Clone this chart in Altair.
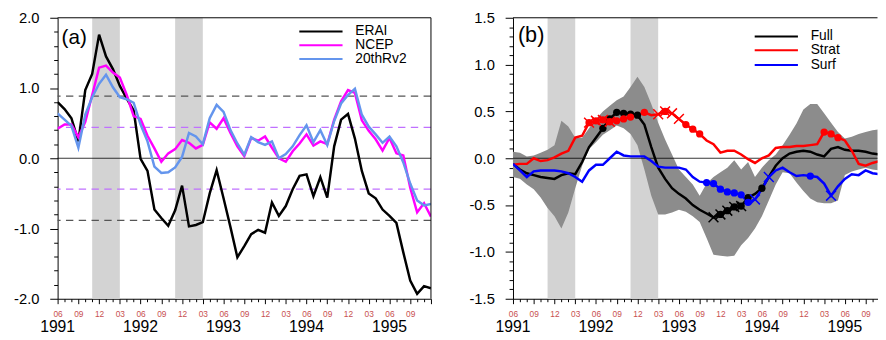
import json
import altair as alt
import pandas as pd

FONT = "Liberation Sans"

# ---------------- data ----------------
# month index 0 = Jun 1991 ... 54 = Dec 1995
MONTHS = list(range(55))
MONTH_LABELS = ["06", "09", "12", "03"]
YEARS = ["1991", "1992", "1993", "1994", "1995"]
YEAR_POS = [0, 12, 24, 36, 48]
BAND_START = [5, 17]
BAND_END = [9, 21]

ERAI = [0.80, 0.70, 0.57, 0.24, 0.97, 1.20, 1.76, 1.45, 1.27, 1.03,
        0.85, 0.68, -0.01, -0.18, -0.73, -0.85, -0.96, -0.74, -0.39, -0.97,
        -0.95, -0.91, -0.50, -0.17, -0.57, -0.98, -1.41, -1.25, -1.08, -1.02,
        -1.06, -0.63, -0.82, -0.68, -0.44, -0.25, -0.23, -0.54, -0.27, -0.56,
        0.17, 0.55, 0.63, 0.28, -0.18, -0.50, -0.57, -0.73, -0.82, -0.92,
        -1.34, -1.74, -1.93, -1.82, -1.85]
NCEP = [0.42, 0.48, 0.48, 0.30, 0.52, 0.90, 1.29, 1.32, 1.22, 1.15,
        0.90, 0.60, 0.56, 0.32, 0.14, -0.05, 0.07, 0.13, 0.26, 0.22,
        0.14, 0.19, 0.51, 0.42, 0.57, 0.36, 0.17, 0.03, 0.29, 0.25,
        0.31, 0.15, 0.00, -0.05, 0.10, 0.21, 0.34, 0.18, 0.24, 0.20,
        0.55, 0.81, 0.97, 0.93, 0.54, 0.39, 0.27, 0.11, 0.29, 0.07,
        0.04, -0.42, -0.77, -0.64, -0.83]
R20 = [0.64, 0.55, 0.46, 0.15, 0.62, 0.87, 1.06, 1.19, 1.01, 0.87,
       0.84, 0.79, 0.48, 0.24, -0.12, -0.21, -0.20, -0.13, 0.02, 0.36,
       0.31, 0.20, 0.57, 0.76, 0.66, 0.40, 0.21, 0.05, 0.30, 0.23,
       0.19, 0.24, 0.00, 0.06, 0.17, 0.33, 0.47, 0.23, 0.40, 0.19,
       0.53, 0.78, 0.90, 0.99, 0.62, 0.45, 0.34, 0.22, 0.31, 0.17,
       -0.06, -0.36, -0.60, -0.67, -0.65]
THR_ERAI = 0.885
THR_NCEP = 0.44

FULL = [-0.06, -0.12, -0.16, -0.18, -0.20, -0.21, -0.22, -0.18, -0.16, -0.17,
        -0.04, 0.12, 0.22, 0.32, 0.42, 0.49, 0.48, 0.47, 0.46, 0.36,
        0.12, -0.10, -0.22, -0.32, -0.38, -0.43, -0.50, -0.55, -0.59, -0.63,
        -0.60, -0.56, -0.52, -0.51, -0.42, -0.38, -0.32, -0.20, -0.08, 0.00,
        0.05, 0.07, 0.08, 0.07, 0.04, 0.02, 0.10, 0.12, 0.09, 0.08,
        0.08, 0.07, 0.05, 0.04, 0.04]
STRAT = [-0.07, -0.06, -0.06, 0.00, -0.03, -0.02, 0.01, 0.05, 0.08, 0.22,
         0.24, 0.38, 0.40, 0.41, 0.39, 0.40, 0.42, 0.44, 0.46, 0.49,
         0.46, 0.47, 0.50, 0.48, 0.42, 0.36, 0.31, 0.26, 0.19, 0.15,
         0.06, 0.08, 0.08, 0.04, -0.01, -0.05, 0.00, 0.03, 0.11, 0.12,
         0.12, 0.13, 0.13, 0.14, 0.15, 0.28, 0.26, 0.22, 0.19, 0.08,
         -0.06, -0.08, -0.05, -0.03, -0.02]
SURF = [-0.06, -0.13, -0.20, -0.14, -0.13, -0.13, -0.13, -0.14, -0.16, -0.20,
        -0.25, -0.13, -0.07, -0.07, 0.00, 0.07, 0.03, 0.02, 0.02, 0.02,
        -0.03, -0.09, -0.10, -0.10, -0.10, -0.12, -0.20, -0.25, -0.26, -0.27,
        -0.33, -0.36, -0.37, -0.39, -0.47, -0.44, -0.33, -0.20, -0.13, -0.10,
        -0.15, -0.19, -0.18, -0.19, -0.20, -0.27, -0.40, -0.30, -0.22, -0.17,
        -0.18, -0.13, -0.16, -0.17, -0.17]
SPREAD_HI = [0.07, 0.06, 0.02, 0.03, 0.06, 0.09, 0.14, 0.40, 0.34, 0.22,
             0.22, 0.32, 0.42, 0.50, 0.56, 0.62, 0.66, 0.76, 0.87, 0.76,
             0.58, 0.38, 0.20, 0.04, -0.12, -0.20, -0.28, -0.40, -0.27, -0.20,
             -0.15, -0.10, -0.02, -0.12, -0.04, -0.20, -0.10, -0.02, 0.04, 0.14,
             0.25, 0.37, 0.52, 0.58, 0.58, 0.48, 0.38, 0.28, 0.21, 0.23,
             0.26, 0.28, 0.30, 0.31, 0.32]
SPREAD_LO = [-0.20, -0.22, -0.28, -0.33, -0.42, -0.53, -0.62, -0.75, -0.58, -0.32,
             -0.08, 0.10, 0.17, 0.25, 0.30, 0.35, 0.32, 0.26, 0.14, -0.12,
             -0.40, -0.60, -0.60, -0.58, -0.55, -0.57, -0.62, -0.68, -0.85, -1.03,
             -1.04, -1.05, -1.04, -0.93, -0.85, -0.75, -0.62, -0.45, -0.28, -0.15,
             -0.16, -0.26, -0.35, -0.43, -0.47, -0.48, -0.48, -0.45, -0.18, -0.14,
             -0.12, -0.10, -0.12, -0.13, -0.13]

FULL_DOTS = [13, 14, 15, 16, 17, 18, 30, 31, 32, 33, 34, 36]
FULL_X = [29, 30, 31, 32, 33]
STRAT_DOTS = [11, 12, 13, 14, 15, 16, 17, 19, 22, 25, 26, 27, 45, 46, 47]
STRAT_X = [11, 12, 13, 14, 21, 22, 23, 24]
SURF_DOTS = [28, 29, 30, 31, 32, 33, 34, 43]
SURF_X = [35, 37, 46]

NAMES_A = ["ERAI", "NCEP", "20thRv2"]
COLORS_A = ["black", "#ff00ff", "#6495ed"]
NAMES_B = ["Full", "Strat", "Surf"]
COLORS_B = ["black", "#ff0000", "#0000ff"]

# ---------------- layout ----------------
H = 286
W_A = 380
PX_PER_MONTH = W_A / 54.0
W_B = 371
XMAX_B = W_B / PX_PER_MONTH
MONTH_COLOR = "#c8504f"
LABEL_ARRAY = json.dumps(MONTH_LABELS)
XCROSS = "M-1,-1L1,1M-1,1L1,-1"


def month_axis(max_idx):
    return alt.Axis(
        values=[m for m in MONTHS if m <= max_idx],
        labelExpr=("datum.value % 3 === 0 && datum.value <= 51 ? "
                   + LABEL_ARRAY + "[(datum.value / 3) % 4] : ''"),
        tickSize={"condition": {"test": "datum.value % 3 === 0", "value": 5}, "value": 3},
        labelFlush=False, labelOverlap=False, labelColor=MONTH_COLOR,
        labelFontSize=8.5, labelFont=FONT, labelPadding=6,
        grid=False, title=None, domainColor="black", tickColor="black",
        domainWidth=1, tickWidth=1)


def value_axis(vals, major_test):
    return alt.Axis(
        values=vals,
        labelExpr=("(" + major_test + ") ? ((datum.value < 0 ? '-' : '') + "
                   "format(abs(datum.value), '.1f')) : ''"),
        tickSize={"condition": {"test": major_test, "value": 8}, "value": 4},
        labelFlush=False, labelOverlap=False, labelColor="black",
        labelFontSize=15, labelFont=FONT, labelPadding=11,
        grid=False, title=None, domainColor="black", tickColor="black",
        domainWidth=1, tickWidth=1)


def one():
    return pd.DataFrame({"k": [0]})


def legend_layers(names, colors, rows):
    out = []
    for n, c, ry in zip(names, colors, rows):
        out.append(alt.Chart(one()).mark_rule(color=c, strokeWidth=2).encode(
            x=alt.value(246), x2=alt.value(290), y=alt.value(ry)))
        out.append(alt.Chart(one()).mark_text(
            align="left", baseline="middle", font=FONT, fontSize=14, color="black"
        ).encode(x=alt.value(303), y=alt.value(ry), text=alt.value(n)))
    return out


def panel(xmax, ymin, ymax, yvals, major_test, width):
    xs = alt.Scale(domain=[0, xmax], nice=False, zero=False)
    ys = alt.Scale(domain=[ymin, ymax], nice=False, zero=False)
    xax = month_axis(int(xmax))
    yax = value_axis(yvals, major_test)
    X = lambda f: alt.X(f, scale=xs, axis=xax)
    Y = lambda f: alt.Y(f, scale=ys, axis=yax)
    bands = alt.Chart(pd.DataFrame({"s": BAND_START, "e": BAND_END})).mark_rect(
        color="#d3d3d3").encode(x=X("s:Q"), x2="e:Q", y=alt.value(0), y2=alt.value(H))
    years = alt.Chart(pd.DataFrame({"i": YEAR_POS, "t": YEARS})).mark_text(
        align="center", baseline="middle", font=FONT, fontSize=16, color="black"
    ).encode(x=X("i:Q"), y=alt.value(H + 28.5), text="t:N")
    return X, Y, bands, years


def line_layer(X, Y, vals, color, width=2.5):
    df = pd.DataFrame({"i": MONTHS, "v": vals})
    return alt.Chart(df).mark_line(color=color, strokeWidth=width, clip=True).encode(
        x=X("i:Q"), y=Y("v:Q"))


def marker_layer(X, Y, idx, vals, color, cross):
    df = pd.DataFrame({"i": idx, "v": [vals[k] for k in idx]})
    if cross:
        mk = alt.Chart(df).mark_point(shape=XCROSS, filled=False, size=100,
                                      strokeWidth=1.5, color=color, opacity=1, clip=True)
    else:
        mk = alt.Chart(df).mark_point(shape="circle", filled=True, size=55,
                                      color=color, opacity=1, clip=True)
    return mk.encode(x=X("i:Q"), y=Y("v:Q"))


# ---------------- panel (a) ----------------
YV_A = [round(-2 + 0.2 * k, 1) for k in range(21)]
X, Y, bands_a, years_a = panel(54, -2, 2, YV_A,
                               "abs(datum.value - round(datum.value)) < 0.01", W_A)
thr_gray = alt.Chart(pd.DataFrame({"v": [THR_ERAI, -THR_ERAI]})).mark_rule(
    color="#555555", strokeDash=[7.5, 5.5], strokeWidth=1.2).encode(y=Y("v:Q"))
thr_violet = alt.Chart(pd.DataFrame({"v": [THR_NCEP, -THR_NCEP]})).mark_rule(
    color="#c070ff", strokeDash=[7.5, 5.5], strokeWidth=1.2).encode(y=Y("v:Q"))
zero_a = alt.Chart(pd.DataFrame({"v": [0.0]})).mark_rule(
    color="black", strokeWidth=0.8).encode(y=Y("v:Q"))
lines_a = [line_layer(X, Y, s, c) for s, c in zip([ERAI, NCEP, R20], COLORS_A)]
lab_a = alt.Chart(one()).mark_text(align="left", baseline="middle", font=FONT,
                                   fontSize=21, color="black").encode(
    x=alt.value(4), y=alt.value(21), text=alt.value("(a)"))
top_a = alt.Chart(one()).mark_rule(color="black", strokeWidth=1).encode(
    x=alt.value(0), x2=alt.value(W_A), y=alt.value(0))
right_a = alt.Chart(one()).mark_rule(color="black", strokeWidth=1).encode(
    x=alt.value(W_A), y=alt.value(0), y2=alt.value(H))
chart_a = alt.layer(bands_a, thr_gray, thr_violet, zero_a, *lines_a, years_a, lab_a,
                    *legend_layers(NAMES_A, COLORS_A, [14, 28, 42]), top_a, right_a
                    ).properties(width=W_A, height=H)

# ---------------- panel (b) ----------------
YV_B = [round(-1.5 + 0.1 * k, 1) for k in range(31)]
X, Y, bands_b, years_b = panel(XMAX_B, -1.5, 1.5, YV_B,
                               "abs(datum.value * 2 - round(datum.value * 2)) < 0.01", W_B)
spread = alt.Chart(pd.DataFrame({"i": MONTHS, "lo": SPREAD_LO, "hi": SPREAD_HI})).mark_area(
    color="#8c8c8c", opacity=1, clip=True).encode(x=X("i:Q"), y=Y("lo:Q"), y2="hi:Q")
zero_b = alt.Chart(pd.DataFrame({"v": [0.0]})).mark_rule(
    color="black", strokeWidth=0.8).encode(y=Y("v:Q"))
lines_b = [line_layer(X, Y, s, c) for s, c in zip([FULL, STRAT, SURF], COLORS_B)]
marks_b = [
    marker_layer(X, Y, FULL_X, FULL, "black", True),
    marker_layer(X, Y, FULL_DOTS, FULL, "black", False),
    marker_layer(X, Y, STRAT_X, STRAT, "#ff0000", True),
    marker_layer(X, Y, STRAT_DOTS, STRAT, "#ff0000", False),
    marker_layer(X, Y, SURF_X, SURF, "#0000ff", True),
    marker_layer(X, Y, SURF_DOTS, SURF, "#0000ff", False),
]
lab_b = alt.Chart(one()).mark_text(align="left", baseline="middle", font=FONT,
                                   fontSize=22, color="black").encode(
    x=alt.value(5), y=alt.value(18), text=alt.value("(b)"))
top_b = alt.Chart(one()).mark_rule(color="black", strokeWidth=1).encode(
    x=alt.value(0), x2=alt.value(W_B), y=alt.value(0))
chart_b = alt.layer(bands_b, spread, zero_b, *lines_b, *marks_b, years_b, lab_b,
                    *legend_layers(NAMES_B, COLORS_B, [19, 33, 48]), top_b
                    ).properties(width=W_B, height=H)

chart = alt.hconcat(chart_a, chart_b, spacing=37.5).resolve_scale(
    x="independent", y="independent"
).properties(
    padding={"left": 5.5, "top": 0, "right": 0, "bottom": 0}
).configure_view(stroke=None)

chart.save("out.html", embed_options={"renderer": "svg", "actions": False})
